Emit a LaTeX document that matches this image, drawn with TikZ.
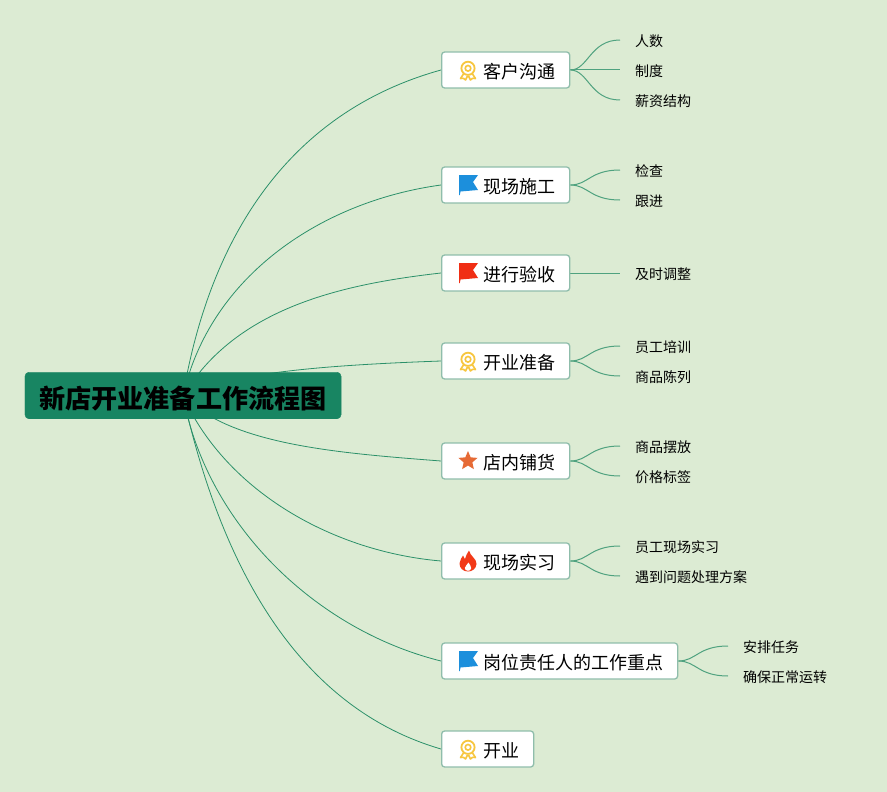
\documentclass[tikz,border=0pt]{standalone}
\usepackage{fontspec}
\usepackage{xcolor}
\setmainfont{Noto Sans CJK SC}
\usetikzlibrary{positioning}
\usetikzlibrary{shapes.geometric}
\usetikzlibrary{backgrounds}
\definecolor{paper}{HTML}{DCEBD3}
\definecolor{rootfill}{HTML}{188562}
\definecolor{mainline}{HTML}{2B9069}
\definecolor{subline}{HTML}{4FA27F}
\definecolor{topicedge}{HTML}{8FBDAB}
\definecolor{medalgold}{HTML}{F7C63F}
\definecolor{flagblue}{HTML}{1C8FDC}
\definecolor{flagred}{HTML}{F02E14}
\definecolor{starorange}{HTML}{E66A35}
\definecolor{flamered}{HTML}{F23A18}
\tikzset{
  medal/.pic={
    \draw [medalgold, line width=1.8pt, fill=white] (0,-1.7) circle (6.6);
    \draw [medalgold, line width=1.6pt] (0,-1.7) circle (2.8);
    \draw [medalgold, line width=1.6pt, line join=round]
      (-4.5,4) -- (-7.5,8.5) -- (-4.5,8.3) -- (-2.5,10) -- (-0.5,6);
    \draw [medalgold, line width=1.6pt, line join=round]
      (4.5,4) -- (7.5,8.5) -- (4.5,8.3) -- (2.5,10) -- (0.5,6);
  },
  flagicon/.pic={
    \fill [pic actions] (-9,-10) -- (10,-10) -- (5,-3) -- (10,5) -- (-7.5,6.5)
      -- (-8.2,10) -- (-9,10) -- cycle;
  },
  flame/.pic={
    \fill [flamered] (1,-10.5) .. controls (2,-5) and (9,-2) .. (8.5,3)
      .. controls (8,8) and (4,10.5) .. (0,10.5)
      .. controls (-5,10.5) and (-8.5,7) .. (-8.5,2.5)
      .. controls (-8.5,-1) and (-6,-3) .. (-5,-5.5)
      .. controls (-4,-3.5) and (-3.5,-2.5) .. (-3,-2)
      .. controls (-2,-5) and (-1,-8) .. (1,-10.5) -- cycle;
    \fill [white] (0.5,1.5) .. controls (1.5,4) and (3.5,5) .. (3.2,7.2)
      .. controls (3,9) and (1.5,9.8) .. (0,9.8)
      .. controls (-2,9.8) and (-3.2,8.5) .. (-3.2,7)
      .. controls (-3.2,5) and (-0.5,4) .. (0.5,1.5) -- cycle;
  }
}
\begin{document}
\begin{tikzpicture}
  [
    x=1pt, y=-1pt,
    roottopic/.style={
       fill=rootfill,
       draw=rootfill,
       rounded corners=4pt,
       minimum height=46.5pt,
       inner xsep=14.5pt,
       font=\fontsize{26.1}{26.1}\selectfont\bfseries,
       text height=25pt,
       text depth=0pt
    },
    topic/.style={
       anchor=west,
       fill=white,
       draw=topicedge,
       line width=1.3pt,
       rounded corners=3pt,
       minimum height=36pt,
       inner xsep=14pt,
       font=\fontsize{18}{18}\selectfont,
       text height=17pt,
       text depth=1pt
    },
    subtopic/.style={
       anchor=west,
       inner xsep=15pt,
       font=\fontsize{14}{14}\selectfont,
       text height=14pt,
       text depth=1pt
    },
    mainlink/.style={
       draw=mainline,
       line width=0.8pt
    },
    sublink/.style={
       draw=subline,
       line width=1pt
    }
  ]
  \useasboundingbox (0,0) rectangle (887,792);

  \node (root) at (183,395.5) [roottopic] {新店开业准备工作流程图};
  \coordinate (rootout) at (183,396);

  \node (kehu)   at (441, 70) [topic] {\hspace*{28pt}客户沟通};
  \node (shigong) at (441,185) [topic] {\hspace*{28pt}现场施工};
  \node (yanshou) at (441,273) [topic] {\hspace*{28pt}进行验收};
  \node (zhunbei) at (441,361) [topic] {\hspace*{28pt}开业准备};
  \node (puhuo)  at (441,461) [topic] {\hspace*{28pt}店内铺货};
  \node (shixi)  at (441,561) [topic] {\hspace*{28pt}现场实习};
  \node (gangwei) at (441,661) [topic] {\hspace*{28pt}岗位责任人的工作重点};
  \node (kaiye)  at (441,749) [topic] {\hspace*{28pt}开业};

  \pic at (468, 70) {medal};
  \pic [fill=flagblue] at (468,185) {flagicon};
  \pic [fill=flagred] at (468,273) {flagicon};
  \pic at (468,361) {medal};
  \node (staricon) at (468,461) [star, star points=5, star point ratio=2.2, fill=starorange, inner sep=0pt, minimum size=20pt] {};
  \pic at (468,561) {flame};
  \pic [fill=flagblue] at (468,661) {flagicon};
  \pic at (468,749) {medal};

  \node (renshu)  at (620, 40) [subtopic] {人数};
  \node (zhidu)   at (620, 70) [subtopic] {制度};
  \node (xinzi)   at (620,100) [subtopic] {薪资结构};
  \node (jiancha) at (620,170) [subtopic] {检查};
  \node (genjin)  at (620,200) [subtopic] {跟进};
  \node (jishi)   at (620,273) [subtopic] {及时调整};
  \node (peixun)  at (620,346) [subtopic] {员工培训};
  \node (chenlie) at (620,376) [subtopic] {商品陈列};
  \node (baifang) at (620,446) [subtopic] {商品摆放};
  \node (biaoqian) at (620,476) [subtopic] {价格标签};
  \node (xianchang) at (620,546) [subtopic] {员工现场实习};
  \node (fangan)  at (620,576) [subtopic] {遇到问题处理方案};
  \node (renwu)   at (728,646) [subtopic] {安排任务};
  \node (yunzhuan) at (728,676) [subtopic] {确保正常运转};

  \begin{scope}[on background layer]
    \fill [paper] (0,0) rectangle (887,792);

    \draw [mainlink] (rootout) .. controls (209,241) and (286,113) .. (kehu.west);
    \draw [mainlink] (rootout) .. controls (210,275) and (323,201) .. (shigong.west);
    \draw [mainlink] (rootout) .. controls (236,307) and (344,284) .. (yanshou.west);
    \draw [mainlink] (rootout) .. controls (232,372) and (330,365) .. (zhunbei.west);
    \draw [mainlink] (rootout) .. controls (232,445) and (338,453) .. (puhuo.west);
    \draw [mainlink] (rootout) .. controls (227,493) and (335,552) .. (shixi.west);
    \draw [mainlink] (rootout) .. controls (207,525) and (316,630) .. (gangwei.west);
    \draw [mainlink] (rootout) .. controls (215,539) and (283,703) .. (kaiye.west);

    \draw [sublink] (kehu.east) .. controls +(18,0) and +(-30,0) .. (renshu.west);
    \draw [sublink] (kehu.east) -- (zhidu.west);
    \draw [sublink] (kehu.east) .. controls +(18,0) and +(-30,0) .. (xinzi.west);
    \draw [sublink] (shigong.east) .. controls +(18,0) and +(-30,0) .. (jiancha.west);
    \draw [sublink] (shigong.east) .. controls +(18,0) and +(-30,0) .. (genjin.west);
    \draw [sublink] (yanshou.east) -- (jishi.west);
    \draw [sublink] (zhunbei.east) .. controls +(18,0) and +(-30,0) .. (peixun.west);
    \draw [sublink] (zhunbei.east) .. controls +(18,0) and +(-30,0) .. (chenlie.west);
    \draw [sublink] (puhuo.east) .. controls +(18,0) and +(-30,0) .. (baifang.west);
    \draw [sublink] (puhuo.east) .. controls +(18,0) and +(-30,0) .. (biaoqian.west);
    \draw [sublink] (shixi.east) .. controls +(18,0) and +(-30,0) .. (xianchang.west);
    \draw [sublink] (shixi.east) .. controls +(18,0) and +(-30,0) .. (fangan.west);
    \draw [sublink] (gangwei.east) .. controls +(18,0) and +(-30,0) .. (renwu.west);
    \draw [sublink] (gangwei.east) .. controls +(18,0) and +(-30,0) .. (yunzhuan.west);
  \end{scope}
\end{tikzpicture}
\end{document}
